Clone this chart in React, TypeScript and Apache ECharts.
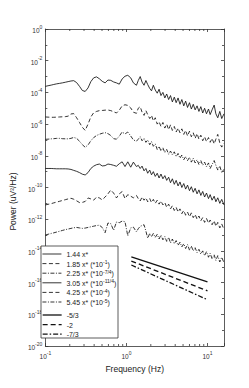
import React, { useEffect, useRef } from 'react';
import * as echarts from 'echarts';

// Frequency grid (Hz) shared by all six spectra
const frequencyHz = [
  0.1, 0.108, 0.118, 0.127, 0.138, 0.15, 0.162, 0.176, 0.191, 0.207,
  0.224, 0.243, 0.264, 0.286, 0.31, 0.336, 0.364, 0.395, 0.428, 0.464,
  0.503, 0.546, 0.592, 0.641, 0.695, 0.754, 0.817, 0.886, 0.961, 1.04,
  1.13, 1.22, 1.33,
  1.4, 1.48, 1.56, 1.65, 1.74, 1.83, 1.94, 2.04, 2.15, 2.27,
  2.4, 2.53, 2.67, 2.82, 2.98, 3.14, 3.32, 3.5, 3.69, 3.9,
  4.11, 4.34, 4.58, 4.83, 5.1, 5.38, 5.68, 6.0, 6.33, 6.68,
  7.05, 7.44, 7.85, 8.28, 8.74, 9.22, 9.73, 10.3, 10.8, 11.4,
  12.1, 12.7, 13.4, 14.2, 15.0, 16.0,
];

// Power values as log10(uV^2/Hz)
const psd1Log10 = [
  -3.62, -3.58, -3.54, -3.5, -3.46, -3.43, -3.4, -3.36, -3.32, -3.28,
  -3.26, -3.38, -3.62, -3.88, -3.94, -3.72, -3.32, -3.08, -3.02, -3.14,
  -3.3, -3.4, -3.22, -3.24, -3.34, -3.4, -3.48, -3.15, -2.98, -2.92,
  -3.08, -3.4, -3.55,
  -3.25, -3.0, -3.35, -3.55, -3.25, -3.5, -3.75, -3.9, -3.55, -3.85,
  -4.05, -3.8, -4.2, -4.0, -4.35, -4.1, -4.45, -4.2, -4.6, -4.3,
  -4.65, -4.35, -4.75, -4.45, -4.85, -4.55, -4.95, -4.65, -5.05, -4.75,
  -5.1, -4.85, -5.2, -4.9, -5.3, -5.0, -5.35, -5.05, -5.4, -5.1,
  -4.8, -5.35, -5.6, -5.2, -5.65, -5.35,
];
const psd2Log10 = [
  -5.55, -5.56, -5.57, -5.57, -5.56, -5.55, -5.54, -5.53, -5.5, -5.36,
  -5.34, -5.6, -5.9, -6.2, -6.4, -6.0, -5.55, -5.28, -5.2, -5.15,
  -5.14, -5.12, -5.11, -5.15, -5.22, -5.3, -5.12, -4.85, -4.78, -4.82,
  -4.98, -5.25, -5.32,
  -5.0, -4.9, -5.25, -5.45, -5.15, -5.4, -5.65, -5.45, -5.8, -5.6,
  -6.0, -5.85, -6.15, -5.9, -6.25, -6.0, -6.35, -6.05, -6.4, -6.15,
  -6.5, -6.25, -6.55, -6.3, -6.65, -6.4, -6.75, -6.45, -6.8, -6.55,
  -6.9, -6.6, -6.95, -6.7, -7.05, -6.8, -7.1, -6.85, -7.15, -6.9,
  -7.25, -6.95, -6.65, -7.2, -7.45, -7.2,
];
const psd3Log10 = [
  -6.96, -6.95, -6.93, -6.92, -6.9, -6.9, -6.92, -6.93, -6.93, -6.9,
  -6.84, -6.9, -7.08, -7.3, -7.46, -7.32, -7.05, -6.85, -6.72, -6.64,
  -6.58, -6.54, -6.6, -6.72, -6.92, -6.95, -6.76, -6.5, -6.62, -6.5,
  -6.75, -7.0, -7.08,
  -6.95, -6.8, -7.05, -6.9, -7.15, -7.0, -7.3, -7.1, -7.4, -7.25,
  -7.6, -7.4, -7.7, -7.5, -7.8, -7.6, -7.9, -7.7, -7.95, -7.75,
  -8.05, -7.85, -8.15, -7.95, -8.25, -8.05, -8.3, -8.1, -8.4, -8.15,
  -8.45, -8.25, -8.55, -8.3, -8.6, -8.4, -8.7, -8.45, -8.8, -8.55,
  -8.3, -8.6, -8.9, -8.65, -9.05, -8.85,
];
const psd4Log10 = [
  -8.8, -8.8, -8.8, -8.81, -8.82, -8.82, -8.82, -8.82, -8.83, -8.86,
  -8.92, -8.98, -9.06, -9.16, -9.21, -9.06, -8.8, -8.65, -8.56, -8.52,
  -8.64, -8.62, -8.52, -8.55, -8.6, -8.66, -8.5, -8.38, -8.68, -8.38,
  -8.72, -8.4, -8.68,
  -8.6, -8.8, -8.65, -8.95, -8.8, -9.1, -8.9, -9.2, -9.0, -9.3,
  -9.1, -9.4, -9.15, -9.45, -9.25, -9.55, -9.35, -9.7, -9.45, -9.8,
  -9.55, -9.9, -9.65, -10.0, -9.75, -10.1, -9.85, -10.2, -9.95, -10.3,
  -10.05, -10.4, -10.15, -10.5, -10.25, -10.6, -10.35, -10.7, -10.45, -10.8,
  -10.55, -10.9, -10.65, -11.0, -10.75, -11.1,
];
const psd5Log10 = [
  -11.1, -11.06, -11.02, -10.97, -10.92, -10.87, -10.82, -10.77, -10.72, -10.68,
  -10.74, -10.84, -10.95, -10.94, -10.88, -10.66, -10.72, -10.8, -10.6, -10.66,
  -10.78, -10.6, -10.4, -10.16, -10.35, -10.66, -10.4, -10.26, -10.7, -10.45,
  -10.55, -10.65, -10.5,
  -10.7, -10.85, -10.6, -10.8, -10.65, -10.9, -10.7, -10.95, -10.75, -11.0,
  -10.8, -11.05, -10.85, -11.1, -10.95, -11.25, -11.05, -11.35, -11.15, -11.45,
  -11.25, -11.55, -11.35, -11.65, -11.45, -11.75, -11.55, -11.85, -11.6, -11.9,
  -11.7, -12.0, -11.8, -12.1, -11.9, -12.2, -11.95, -12.25, -12.05, -12.35,
  -12.1, -12.45, -12.2, -12.55, -12.3, -12.65,
];
const psd6Log10 = [
  -13.0, -12.95, -12.9, -12.86, -12.81, -12.76, -12.71, -12.66, -12.62, -12.58,
  -12.54, -12.52, -12.55, -12.58, -12.56, -12.52, -12.48, -12.44, -12.4, -12.38,
  -12.52, -12.85, -12.24, -12.28, -12.7, -12.18, -12.22, -12.12, -12.16, -13.05,
  -12.55, -12.5, -12.8,
  -12.6, -12.45, -12.4, -12.35, -12.75, -13.2, -12.9, -13.1, -12.9, -13.15,
  -12.95, -13.25, -13.0, -13.3, -13.1, -13.4, -13.15, -13.5, -13.25, -13.55,
  -13.35, -13.65, -13.45, -13.75, -13.55, -13.85, -13.6, -13.95, -13.7, -14.0,
  -13.8, -14.1, -13.9, -14.2, -14.0, -14.3, -14.05, -14.4, -14.15, -14.5,
  -14.25, -14.6, -14.3, -14.7, -14.4, -14.75,
];

const curveCoefficients = ['1.44', '1.85', '2.25', '3.05', '4.25', '5.45'];
const curveScaleExponents = ['', '-1', '-7/4', '-11/4', '-4', '-5'];

// Reference power-law lines
const refFrequencyHz = [1.15, 10];
const refSlope53Log10 = [-14.38, -15.95];
const refSlope2Log10 = [-14.64, -16.52];
const refSlope73Log10 = [-14.89, -17.08];
const refSlopeLabels = ['-5/3', '-2', '-7/3'];

// Minor tick positions on the frequency axis
const xMinorTickHz = [0.2, 0.3, 0.4, 0.5, 0.6, 0.7, 0.8, 0.9, 2, 3, 4, 5, 6, 7, 8, 9];

const FONT = '"Liberation Sans", Arial, Helvetica, sans-serif';
const AX = '#333';
const LINE = '#111';
const DASHED = [4, 2.5];
const DASHDOT = [4, 1.5, 1, 1.5];
const CURVE_W = 0.85;
const REF_W = 1.3;

export default function App() {
  const ref = useRef<HTMLDivElement>(null);

  useEffect(() => {
    if (!ref.current) return;
    const chart = echarts.init(ref.current, null, { renderer: 'svg' });

    const psd = [psd1Log10, psd2Log10, psd3Log10, psd4Log10, psd5Log10, psd6Log10];
    const curveTypes: any[] = ['solid', DASHED, DASHDOT, 'solid', DASHED, DASHDOT];
    const curveNames = curveCoefficients.map((c, i) =>
      curveScaleExponents[i] ? `${c} x* (*10^${curveScaleExponents[i]})` : `${c} x*`
    );
    const refData = [refSlope53Log10, refSlope2Log10, refSlope73Log10];
    const refTypes: any[] = ['solid', [5, 3], [5, 2, 1.5, 2]];

    const axisRich = {
      b: { fontSize: 6.5, fontFamily: FONT, color: '#333', lineHeight: 10, verticalAlign: 'bottom' },
      s: { fontSize: 5, fontFamily: FONT, color: '#333', lineHeight: 10, verticalAlign: 'top' },
    };
    const legendRich = {
      t: { fontSize: 7, fontFamily: FONT, color: '#222', lineHeight: 8, verticalAlign: 'bottom' },
      s: { fontSize: 5, fontFamily: FONT, color: '#222', lineHeight: 8, verticalAlign: 'top' },
    };

    const xLabel = (v: number) => {
      const e = Math.log10(v);
      const r = Math.round(e);
      return Math.abs(e - r) < 1e-6 ? `{b|10}{s|${r}}` : '';
    };

    const xAxisBase = {
      type: 'log',
      logBase: 10,
      min: 0.1,
      max: 16,
      splitLine: { show: false },
      axisLine: { show: true, onZero: false, lineStyle: { color: AX, width: 0.8 } },
      axisTick: { show: true, inside: true, length: 3, lineStyle: { color: AX, width: 0.8 } },
    };
    const yAxisBase = {
      type: 'value',
      min: -20,
      max: 0,
      interval: 2,
      splitLine: { show: false },
      axisLine: { show: true, onZero: false, lineStyle: { color: AX, width: 0.8 } },
      axisTick: { show: true, inside: true, length: 3, lineStyle: { color: AX, width: 0.8 } },
      minorTick: { show: true, splitNumber: 2, length: 2, lineStyle: { color: AX, width: 0.8 } },
    };

    const series: any[] = [];
    psd.forEach((arr, i) => {
      series.push({
        type: 'line',
        name: curveNames[i],
        data: frequencyHz.map((f, k) => [f, arr[k]]),
        symbol: 'none',
        showSymbol: false,
        silent: true,
        lineStyle: { color: LINE, width: CURVE_W, type: curveTypes[i] },
        itemStyle: { color: LINE },
        z: 3,
      });
    });
    refData.forEach((arr, i) => {
      series.push({
        type: 'line',
        name: refSlopeLabels[i],
        data: refFrequencyHz.map((f, k) => [f, arr[k]]),
        symbol: 'none',
        showSymbol: false,
        silent: true,
        lineStyle: { color: LINE, width: REF_W, type: refTypes[i] },
        itemStyle: { color: LINE },
        z: 3,
      });
    });
    series.push({
      type: 'custom',
      name: 'minorTicks',
      silent: true,
      clip: false,
      data: xMinorTickHz.map((f) => [f, 0]),
      renderItem: (_p: any, api: any) => {
        const f = api.value(0);
        const top = api.coord([f, 0]);
        const bot = api.coord([f, -20]);
        const st = { stroke: AX, lineWidth: 0.8 };
        return {
          type: 'group',
          children: [
            { type: 'line', shape: { x1: bot[0], y1: bot[1], x2: bot[0], y2: bot[1] - 2 }, style: st },
            { type: 'line', shape: { x1: top[0], y1: top[1], x2: top[0], y2: top[1] + 2 }, style: st },
          ],
        };
      },
    });

    const legendBase = {
      orient: 'vertical',
      left: 42,
      padding: 0,
      itemWidth: 19,
      itemHeight: 8,
      itemGap: 1.6,
      selectedMode: false,
      itemStyle: { opacity: 0 },
      textStyle: { fontSize: 7, color: '#222', fontFamily: FONT, lineHeight: 8, rich: legendRich },
    };

    const option: any = {
      animation: false,
      backgroundColor: '#fff',
      textStyle: { fontFamily: FONT },
      grid: { left: 36, top: 29, right: 25, bottom: 42, containLabel: false },
      xAxis: [
        {
          ...xAxisBase,
          position: 'bottom',
          axisLabel: { margin: 4, formatter: xLabel, rich: axisRich },
          name: 'Frequency (Hz)',
          nameLocation: 'middle',
          nameGap: 14,
          nameTextStyle: { fontSize: 8.5, color: '#222', fontFamily: FONT },
        },
        { ...xAxisBase, position: 'top', axisLabel: { show: false } },
      ],
      yAxis: [
        {
          ...yAxisBase,
          position: 'left',
          axisLabel: { margin: 3, formatter: (v: number) => `{b|10}{s|${v}}`, rich: axisRich },
          name: 'Power (uV²/Hz)',
          nameLocation: 'middle',
          nameGap: 21,
          nameRotate: 90,
          nameTextStyle: { fontSize: 8.5, color: '#222', fontFamily: FONT, padding: [0, 28, 0, 0] },
        },
        { ...yAxisBase, position: 'right', axisLabel: { show: false } },
      ],
      legend: [
        {
          ...legendBase,
          top: 250,
          lineStyle: { width: CURVE_W },
          data: curveNames,
          formatter: (name: string) => {
            const i = curveNames.indexOf(name);
            const c = curveCoefficients[i];
            const e = curveScaleExponents[i];
            return e ? `{t|${c} x* (*10}{s|${e}}{t|)}` : `{t|${c} x*}`;
          },
        },
        {
          ...legendBase,
          top: 311,
          lineStyle: { width: REF_W },
          data: refSlopeLabels,
          formatter: (name: string) => `{t|${name}}`,
        },
      ],
      graphic: [
        {
          type: 'rect',
          shape: { x: 41, y: 246, width: 77, height: 92 },
          style: { fill: '#fff', stroke: AX, lineWidth: 0.8 },
          z: 1,
          silent: true,
        },
      ],
      series,
    };

    chart.setOption(option);
    return () => chart.dispose();
  }, []);

  return (
    <div
      ref={ref}
      style={{ position: 'fixed', left: 0, top: 0, width: 249, height: 388, background: '#fff' }}
    />
  );
}
